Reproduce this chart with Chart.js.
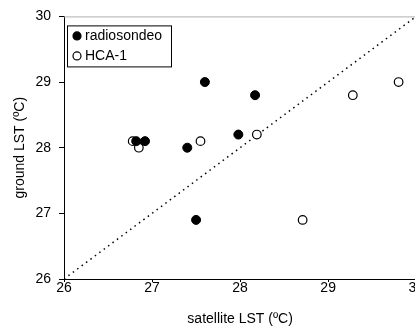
<!DOCTYPE html>
<html>
<head>
<meta charset="utf-8">
<script src="https://cdn.jsdelivr.net/npm/chart.js@4.4.0/dist/chart.umd.min.js"></script>
<style>
  html, body { margin: 0; padding: 0; overflow: hidden; background: #fff; }
  #wrap { width: 422px; height: 332px; }
</style>
</head>
<body>
<div id="wrap"><canvas id="myChart"></canvas></div>
<script>
// radiosondeo (filled)
var radioX = [26.82, 26.92, 27.40, 27.50, 27.60, 27.98, 28.17];
var radioY = [28.1, 28.1, 28.0, 26.9, 29.0, 28.2, 28.8];
// HCA-1 (open)
var hcaX = [26.78, 26.85, 27.55, 28.19, 28.71, 29.28, 29.80];
var hcaY = [28.1, 28.0, 28.1, 28.2, 26.9, 28.8, 29.0];
// 1:1 line
var lineX = [26, 30];
var lineY = [26, 30];
var ticks = [26, 27, 28, 29, 30];

function pts(xs, ys) {
  return xs.map(function (x, i) { return { x: x, y: ys[i] }; });
}

var font = "'Liberation Sans', Arial, sans-serif";

// frame on top + boxed legend inside plot
const frame = {
  id: "frame",
  afterDraw: function (chart) {
    const ctx = chart.ctx;
    const a = chart.chartArea;
    ctx.save();
    ctx.strokeStyle = "#b0b0b0";
    ctx.lineWidth = 1;
    ctx.beginPath();
    ctx.moveTo(a.left, a.top + 0.5);
    ctx.lineTo(a.right, a.top + 0.5);
    ctx.stroke();

    const lx = a.left + 3, ly = a.top + 9;
    ctx.strokeStyle = "#000";
    ctx.strokeRect(lx + 0.5, ly + 0.5, 104, 41);
    ctx.font = "14px " + font;
    ctx.textBaseline = "middle";
    ctx.fillStyle = "#000";
    [0, 1].forEach(function (i) {
      const ds = chart.data.datasets[i];
      const cy = ly + 10.5 + i * 20;
      ctx.beginPath();
      ctx.arc(lx + 10, cy, 4, 0, Math.PI * 2);
      ctx.fillStyle = ds.pointBackgroundColor;
      ctx.fill();
      ctx.lineWidth = 1.2;
      ctx.strokeStyle = "#000";
      ctx.stroke();
      ctx.fillStyle = "#000";
      ctx.fillText(ds.label, lx + 18, cy);
    });
    ctx.restore();
  }
};

const ctx = document.getElementById("myChart");
const myChart = new Chart(ctx, {
  type: "scatter",
  data: {
    datasets: [
      {
        label: "radiosondeo",
        data: pts(radioX, radioY),
        pointRadius: 4.5,
        pointBackgroundColor: "#000",
        pointBorderColor: "#000",
        pointBorderWidth: 1
      },
      {
        label: "HCA-1",
        data: pts(hcaX, hcaY),
        pointRadius: 4.3,
        pointBackgroundColor: "#fff",
        pointBorderColor: "#000",
        pointBorderWidth: 1.2
      },
      {
        label: "1:1",
        type: "line",
        data: pts(lineX, lineY),
        borderColor: "#000",
        borderWidth: 1.5,
        borderDash: [1.5, 4],
        pointRadius: 0,
        fill: false
      }
    ]
  },
  options: {
    responsive: true,
    maintainAspectRatio: false,
    animation: false,
    layout: { padding: { top: 15, right: 0, left: 0, bottom: 0 } },
    plugins: {
      legend: { display: false },
      tooltip: { enabled: false }
    },
    scales: {
      x: {
        type: "linear",
        min: 26,
        max: 30,
        afterBuildTicks: function (s) { s.ticks = ticks.map(function (v) { return { value: v }; }); },
        afterFit: function (s) { s.height = 53; },
        ticks: { color: "#000", font: { family: font, size: 14 }, padding: -2 },
        grid: { display: true, drawOnChartArea: false, drawTicks: true, tickLength: 3, color: "#000" },
        border: { display: true, color: "#000", width: 1 },
        title: {
          display: true,
          text: "satellite LST (ºC)",
          color: "#000",
          font: { family: font, size: 14 },
          padding: { top: 0, bottom: 4 }
        }
      },
      y: {
        type: "linear",
        min: 26,
        max: 30,
        afterBuildTicks: function (s) { s.ticks = ticks.map(function (v) { return { value: v }; }); },
        afterFit: function (s) { s.width = 64; },
        ticks: { color: "#000", font: { family: font, size: 14 }, padding: 8 },
        grid: { display: true, drawOnChartArea: false, drawTicks: true, tickLength: 5, color: "#000" },
        border: { display: true, color: "#000", width: 1 },
        title: {
          display: true,
          text: "ground LST (ºC)",
          color: "#000",
          font: { family: font, size: 14 },
          padding: { top: 12, bottom: 0 }
        }
      }
    }
  },
  plugins: [frame]
});
</script>
</body>
</html>
